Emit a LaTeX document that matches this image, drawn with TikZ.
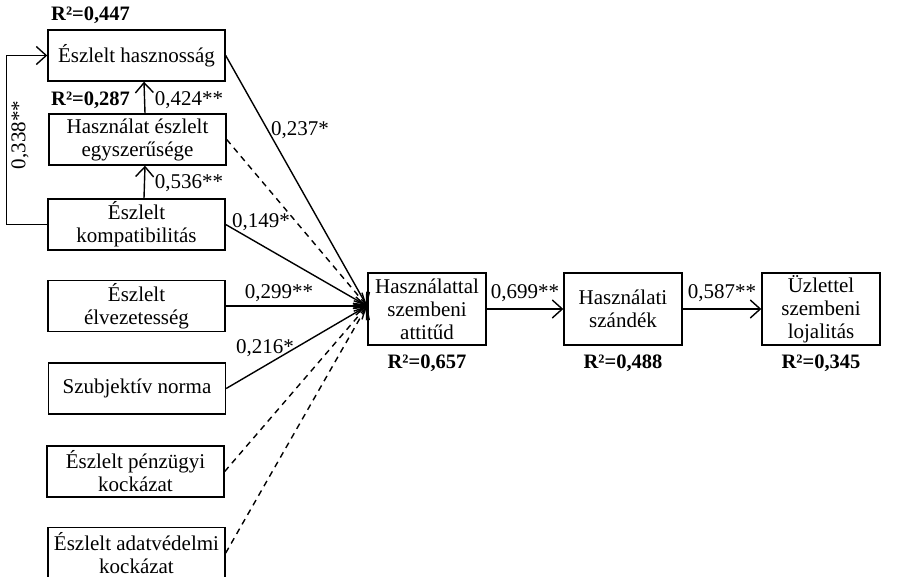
\documentclass[tikz,border=0pt]{standalone}
\usepackage{fontspec}
\setmainfont{Liberation Serif}
\usetikzlibrary{arrows.meta}
\begin{document}
\begin{tikzpicture}[x=1pt,y=-1pt,
  box/.style={draw,line width=1.4pt,minimum width=177pt,minimum height=51pt,align=center,inner sep=0pt,font=\fontsize{21}{23}\selectfont},
  bigbox/.style={box,minimum width=118pt,minimum height=72pt},
  lab/.style={font=\fontsize{21}{23}\selectfont,inner sep=0pt},
  rsq/.style={font=\fontsize{20.5}{22}\selectfont\bfseries,inner sep=0pt},
  arr/.style={line width=1.4pt,-{Straight Barb[length=10pt,width=18pt,line width=1.4pt]}},
  darr/.style={arr,dash pattern=on 6pt off 5pt}
]
\useasboundingbox (0,0) rectangle (915,577);
\clip (0,0) rectangle (915,577);

\node[box] (b1) at (136.5,55.5) {Észlelt hasznosság};
\node[box] (b2) at (137.5,139.5) {Használat észlelt\\egyszerűsége};
\node[box] (b3) at (136.5,224.5) {Észlelt\\kompatibilitás};
\node[box] (b4) at (136.5,306) {Észlelt\\élvezetesség};
\node[box] (b5) at (137,388.5) {Szubjektív norma};
\node[box] (b6) at (135.5,471.5) {Észlelt pénzügyi\\kockázat};
\node[box] (b7) at (136.5,553) {Észlelt adatvédelmi\\kockázat};

\node[bigbox] (att) at (427,309) {Használattal\\szembeni\\attitűd};
\node[bigbox] (int) at (623,309) {Használati\\szándék};
\node[bigbox] (loy) at (821,309) {Üzlettel\\szembeni\\lojalitás};

\node[rsq,anchor=west] (r1) at (51,15) {R²=0,447};
\node[rsq,anchor=west] (r2) at (51,100) {R²=0,287};
\node[rsq] (r3) at (427,363) {R²=0,657};
\node[rsq] (r4) at (623,363) {R²=0,488};
\node[rsq] (r5) at (821,363) {R²=0,345};

\coordinate (c) at (367,306);

\draw[arr] ([xshift=7.5pt]b2.north) -- ([xshift=7.5pt]b1.south);
\draw[arr] ([xshift=7.5pt]b3.north) -- ([xshift=7.5pt]b2.south);
\draw[arr] (b3.west) -- ++(-41,0) |- (b1.west);

\draw[arr] (b1.east) -- (c);
\draw[darr] (b2.east) -- (c);
\draw[arr] (b3.east) -- (c);
\draw[arr] (b4.east) -- (c);
\draw[arr] (b5.east) -- (c);
\draw[darr] (b6.east) -- (c);
\draw[darr] (b7.east) -- (c);

\draw[arr] (att.east) -- (int.west);
\draw[arr] (int.east) -- (loy.west);

\node[lab] (l1) at (189,100) {0,424**};
\node[lab] (l2) at (189,183) {0,536**};
\node[lab,rotate=90] (l3) at (20,135) {0,338**};
\node[lab] (l4) at (300,130) {0,237*};
\node[lab] (l5) at (261,222) {0,149*};
\node[lab] (l6) at (279,293) {0,299**};
\node[lab] (l7) at (265,348) {0,216*};
\node[lab] (l8) at (525,293) {0,699**};
\node[lab] (l9) at (722,293) {0,587**};
\end{tikzpicture}
\end{document}
